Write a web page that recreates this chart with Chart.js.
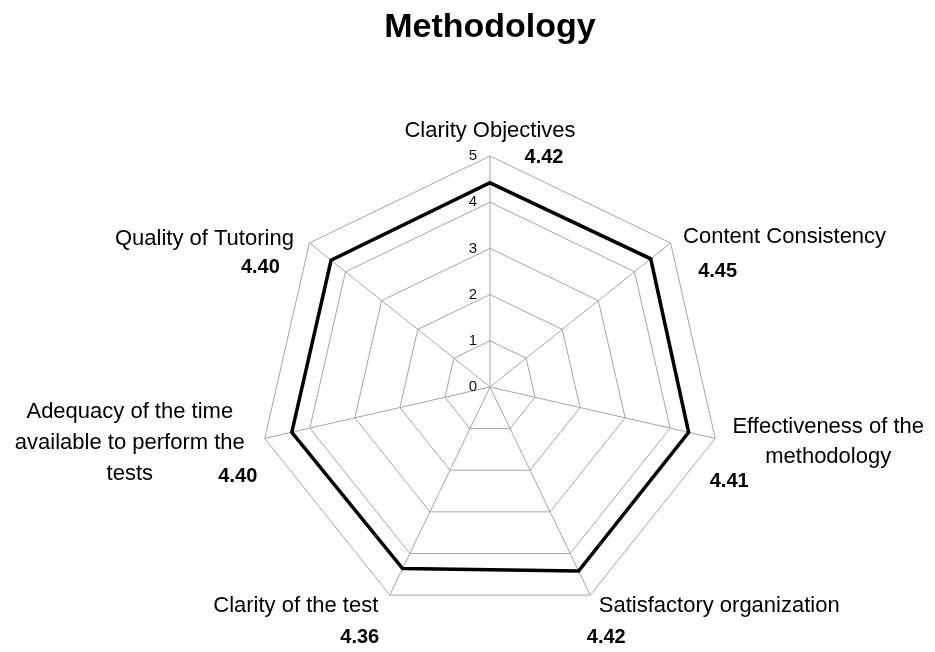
<!DOCTYPE html>
<html>
<head>
<meta charset="utf-8">
<title>Methodology</title>
<script src="https://cdn.jsdelivr.net/npm/chart.js@4.4.1/dist/chart.umd.min.js"></script>
<style>
	body { margin: 0; background: #ffffff; }
	#mycanvas { display: block; }
</style>
</head>
<body>
<canvas id="mycanvas" width="935" height="652"></canvas>
<script>
/* Chart data */
var chartTitle = 'Methodology';
var categories = [
	['Clarity Objectives'],
	['Content Consistency'],
	['Effectiveness of the', 'methodology'],
	['Satisfactory organization'],
	['Clarity of the test'],
	['Adequacy of the time', 'available to perform the', 'tests'],
	['Quality of Tutoring']
];
var scores = [4.42, 4.45, 4.41, 4.42, 4.36, 4.40, 4.40];
var tickLabels = ['0', '1', '2', '3', '4', '5'];

/* Where each label sits, relative to the outer corner of its spoke */
var labelOffsets = [
	{ x: 0, y: -19, gap: 30, vx: 54, vy: 7 },
	{ x: 114, y: 0, gap: 30, vx: 47, vy: 34 },
	{ x: 113, y: -5, gap: 30, vx: 14, vy: 49 },
	{ x: 129, y: 17, gap: 30, vx: 16, vy: 48 },
	{ x: -94, y: 17, gap: 30, vx: -30, vy: 48 },
	{ x: -135, y: -20, gap: 31, vx: -27, vy: 44 },
	{ x: -105, y: 2, gap: 30, vx: -49, vy: 30 }
];

var fontName = '"Liberation Sans", Arial, sans-serif';

/* Draws title, axis names, values and the 0-5 ticks */
var labelPlugin = {
	id: 'radarLabels',
	afterDraw: function(chart) {
		var ctx = chart.ctx;
		var scale = chart.scales.r;
		ctx.save();
		ctx.fillStyle = '#000000';

		/* Title */
		ctx.font = 'bold 34px ' + fontName;
		ctx.textAlign = 'center';
		ctx.textBaseline = 'alphabetic';
		ctx.fillText(chartTitle, scale.xCenter, 37);

		/* Tick numbers left of the vertical spoke */
		ctx.font = '15px ' + fontName;
		ctx.textAlign = 'right';
		ctx.textBaseline = 'middle';
		ctx.fillStyle = '#111111';
		for (var t = 0; t < scale.ticks.length; t++) {
			var d = scale.getDistanceFromCenterForValue(scale.ticks[t].value);
			ctx.fillText(tickLabels[t], scale.xCenter - 13, scale.yCenter - d);
		}

		/* Category names and bold values */
		ctx.fillStyle = '#000000';
		ctx.textAlign = 'center';
		ctx.textBaseline = 'alphabetic';
		for (var i = 0; i < categories.length; i++) {
			var corner = scale.getPointPosition(i, scale.drawingArea);
			var off = labelOffsets[i];
			ctx.font = '22px ' + fontName;
			for (var k = 0; k < categories[i].length; k++) {
				ctx.fillText(categories[i][k], corner.x + off.x, corner.y + off.y + k * off.gap);
			}
			ctx.font = 'bold 20px ' + fontName;
			ctx.fillText(scores[i].toFixed(2), corner.x + off.vx, corner.y + off.vy);
		}
		ctx.restore();
	}
};

/* Radar attributes */
var chartdata = {
	labels: categories,
	datasets: [
		{
			label: chartTitle,
			data: scores,
			borderColor: '#000000',
			borderWidth: 3.5,
			backgroundColor: 'rgba(0, 0, 0, 0)',
			fill: false,
			pointRadius: 0,
			pointHoverRadius: 0,
			tension: 0
		}
	]
};

var ctx = document.getElementById('mycanvas');
var radarGraph = new Chart(ctx, {
	type: 'radar',
	data: chartdata,
	options: {
		responsive: false,
		animation: false,
		layout: {
			padding: { left: 259, right: 214, top: 156, bottom: 34 }
		},
		plugins: {
			legend: { display: false },
			title: { display: false },
			tooltip: { enabled: false }
		},
		scales: {
			r: {
				min: 0,
				max: 5,
				ticks: { stepSize: 1, display: false },
				pointLabels: { display: false },
				grid: { color: '#a6a6a6', lineWidth: 1 },
				angleLines: { color: '#a6a6a6', lineWidth: 1 }
			}
		}
	},
	plugins: [labelPlugin]
});
</script>
</body>
</html>
